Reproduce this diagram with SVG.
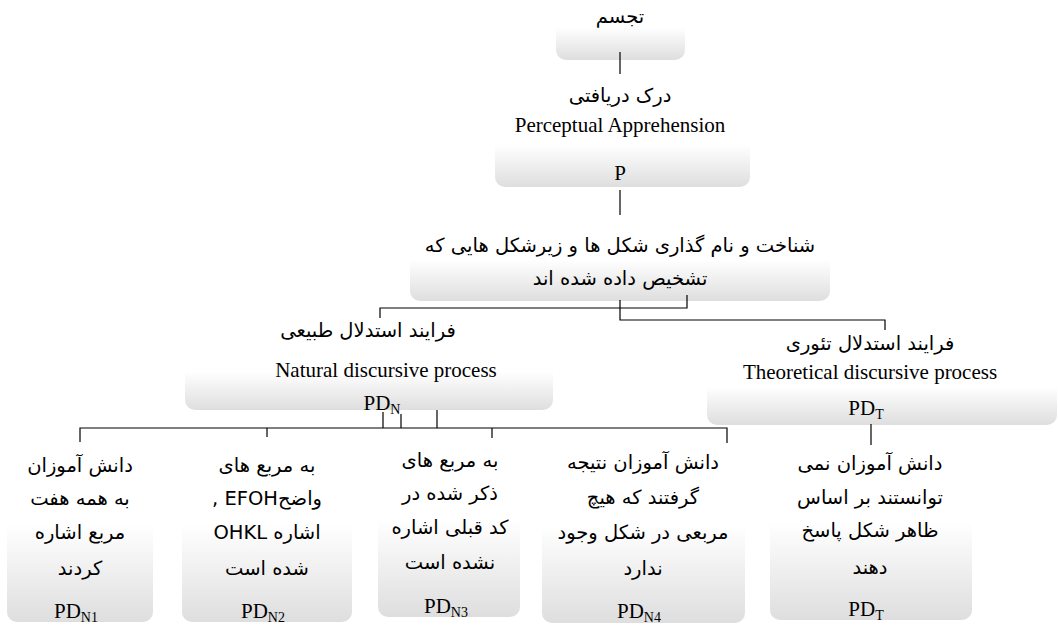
<svg xmlns="http://www.w3.org/2000/svg" width="1058" height="625" viewBox="0 0 1058 625">
<defs>
<linearGradient id="g" x1="0" y1="0" x2="0" y2="1">
<stop offset="0" stop-color="#ffffff"/>
<stop offset="0.45" stop-color="#ffffff"/>
<stop offset="1" stop-color="#dedede"/>
</linearGradient>
</defs>
<style>
.box{fill:url(#g);}
.fa{font-family:"DejaVu Sans",sans-serif;font-size:19.5px;fill:#000;text-anchor:middle;direction:rtl;unicode-bidi:embed;}
.en{font-family:"Liberation Serif",serif;font-size:21px;fill:#000;text-anchor:middle;}
.sub{font-size:14px;}
.c{fill:none;stroke:#000;stroke-width:1.2;}
</style>
<rect width="1058" height="625" fill="#ffffff"/>
<g id="n-tajassom">
<rect class="box" x="556" y="0" width="129" height="60" rx="10"/>
<text class="fa" x="620" y="23">تجسم</text>
</g>
<g id="n-perceptual">
<rect class="box" x="495" y="110" width="255" height="77" rx="10"/>
<text class="fa" x="620" y="102">درک دریافتی</text>
<text class="en" x="620" y="132">Perceptual Apprehension</text>
<text class="en" x="620" y="180">P</text>
</g>
<g id="n-recognition">
<rect class="box" x="410" y="226" width="420" height="75" rx="10"/>
<text class="fa" x="620" y="252">شناخت و نام گذاری شکل ها و زیرشکل هایی که</text>
<text class="fa" x="620" y="285">تشخیص داده شده اند</text>
</g>
<g id="n-natural">
<rect class="box" x="185" y="340" width="368" height="70" rx="10"/>
<text class="fa" x="368" y="337">فرایند استدلال طبیعی</text>
<text class="en" x="386" y="377">Natural discursive process</text>
<text class="en" x="382" y="410">PD<tspan class="sub" dy="4">N</tspan></text>
</g>
<g id="n-theoretical">
<rect class="box" x="707" y="355" width="350" height="70" rx="10"/>
<text class="fa" x="870" y="350">فرایند استدلال تئوری</text>
<text class="en" x="870" y="379">Theoretical discursive process</text>
<text class="en" x="866" y="415">PD<tspan class="sub" dy="4">T</tspan></text>
</g>
<g id="n-pdn1">
<rect class="box" x="7" y="445" width="146" height="177" rx="10"/>
<text class="fa" x="80" y="472">دانش آموزان</text>
<text class="fa" x="80" y="505">به همه هفت</text>
<text class="fa" x="80" y="539">مربع اشاره</text>
<text class="fa" x="80" y="575">کردند</text>
<text class="en" x="76" y="618">PD<tspan class="sub" dy="4">N1</tspan></text>
</g>
<g id="n-pdn2">
<rect class="box" x="182" y="445" width="170" height="177" rx="10"/>
<text class="fa" x="267" y="472">به مربع های</text>
<text class="fa" x="267" y="505">واضحEFOH ,</text>
<text class="fa" x="267" y="539">اشاره  OHKL</text>
<text class="fa" x="267" y="575">شده است</text>
<text class="en" x="263" y="618">PD<tspan class="sub" dy="4">N2</tspan></text>
</g>
<g id="n-pdn3">
<rect class="box" x="378" y="440" width="142" height="177" rx="10"/>
<text class="fa" x="450" y="467">به مربع های</text>
<text class="fa" x="450" y="500">ذکر شده در</text>
<text class="fa" x="450" y="534">کد قبلی اشاره</text>
<text class="fa" x="450" y="569">نشده است</text>
<text class="en" x="446" y="613">PD<tspan class="sub" dy="4">N3</tspan></text>
</g>
<g id="n-pdn4">
<rect class="box" x="542" y="446" width="203" height="177" rx="10"/>
<text class="fa" x="643" y="469">دانش آموزان نتیجه</text>
<text class="fa" x="643" y="504">گرفتند که هیچ</text>
<text class="fa" x="643" y="539">مربعی در شکل وجود</text>
<text class="fa" x="643" y="575">ندارد</text>
<text class="en" x="639" y="618">PD<tspan class="sub" dy="4">N4</tspan></text>
</g>
<g id="n-pdt">
<rect class="box" x="770" y="443" width="202" height="177" rx="10"/>
<text class="fa" x="870" y="470">دانش آموزان نمی</text>
<text class="fa" x="870" y="504">توانستند بر اساس</text>
<text class="fa" x="870" y="537">ظاهر شکل پاسخ</text>
<text class="fa" x="870" y="574">دهند</text>
<text class="en" x="866" y="616">PD<tspan class="sub" dy="4">T</tspan></text>
</g>
<g id="connectors">
<path class="c" d="M620 52V74"/>
<path class="c" d="M620 190V215"/>
<path class="c" d="M687 295V308H380V318"/>
<path class="c" d="M620 300V320H885V330"/>
<path class="c" d="M383 412V428"/>
<path class="c" d="M401 414V428"/>
<path class="c" d="M437 410V428"/>
<path class="c" d="M80 442V428H727V443"/>
<path class="c" d="M267 428V437"/>
<path class="c" d="M492 428V438"/>
<path class="c" d="M871 424V445"/>
</g>
</svg>
